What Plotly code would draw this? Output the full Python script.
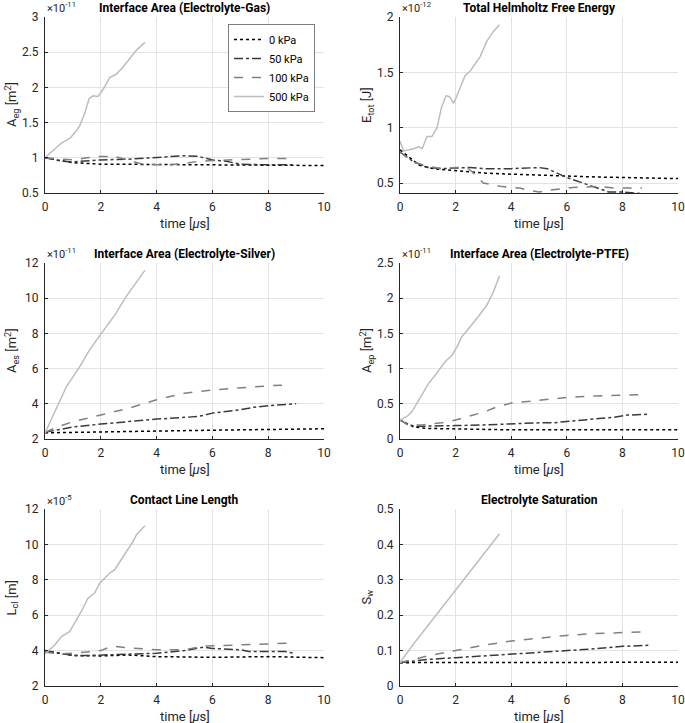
import plotly.graph_objects as go

W, H = 685, 723

SERIES = ["0 kPa", "50 kPa", "100 kPa", "500 kPa"]
COLORS = ["#000000", "#3a3a3a", "#808080", "#bdbdbd"]
DASHES = ["dot", "dashdot", "dash", "solid"]

# ---- Interface Area (Electrolyte-Gas), x1e-11 m^2
EG_T0 = [0, 0.5, 1, 2, 4, 6, 8, 10]
EG_0 = [1.0, 0.96, 0.93, 0.91, 0.90, 0.90, 0.895, 0.89]
EG_T50 = [0, 0.5, 0.9, 1.5, 2, 3, 4, 5, 5.5, 6, 6.5, 7, 8, 8.9]
EG_50 = [1.0, 0.96, 0.94, 0.96, 0.97, 0.98, 1.0, 1.03, 1.02, 0.97, 0.95, 0.91, 0.90, 0.90]
EG_T100 = [0, 0.5, 1, 1.5, 2, 2.5, 3, 3.5, 4, 4.5, 5, 5.5, 6, 6.5, 7, 8, 8.8]
EG_100 = [1.0, 0.98, 0.97, 1.0, 1.02, 1.02, 0.96, 0.91, 0.90, 0.90, 0.92, 0.95, 0.96, 0.97, 0.98, 0.99, 0.99]
EG_T500 = [0, 0.59, 0.9, 1.1, 1.24, 1.42, 1.58, 1.72, 1.9, 2.08, 2.32, 2.56, 2.8, 3.04, 3.28, 3.58]
EG_500 = [1.0, 1.21, 1.28, 1.37, 1.45, 1.63, 1.84, 1.88, 1.87, 1.97, 2.14, 2.19, 2.29, 2.41, 2.53, 2.64]

# ---- Total Helmholtz Free Energy, x1e-12 J
E_T0 = [0, 0.7, 1.2, 2, 3, 4, 5, 6, 7, 8, 9, 10]
E_0 = [0.80, 0.66, 0.63, 0.61, 0.59, 0.58, 0.57, 0.56, 0.555, 0.55, 0.545, 0.54]
E_T50 = [0, 0.5, 1, 1.5, 2, 2.5, 3, 4, 5, 5.3, 6, 7, 7.5, 8, 8.9]
E_50 = [0.78, 0.69, 0.64, 0.63, 0.635, 0.64, 0.63, 0.63, 0.64, 0.63, 0.55, 0.46, 0.42, 0.42, 0.40]
E_T100 = [0, 0.5, 1, 1.5, 2, 2.4, 2.6, 3.0, 3.6, 4.3, 4.7, 5.0, 5.5, 6.2, 7.2, 7.7, 8.7]
E_100 = [0.78, 0.69, 0.65, 0.63, 0.64, 0.64, 0.60, 0.50, 0.47, 0.455, 0.43, 0.42, 0.44, 0.46, 0.47, 0.455, 0.455]
E_T500 = [0, 0.13, 0.5, 0.67, 0.8, 0.97, 1.15, 1.33, 1.5, 1.66, 1.78, 1.93, 2.1, 2.34, 2.52, 2.7, 2.88, 3.12, 3.36, 3.58]
E_500 = [0.88, 0.79, 0.81, 0.83, 0.81, 0.92, 0.92, 1.0, 1.19, 1.29, 1.28, 1.22, 1.32, 1.47, 1.51, 1.58, 1.64, 1.78, 1.87, 1.93]

# ---- Interface Area (Electrolyte-Silver), x1e-11 m^2
ES_T0 = [0, 2, 4, 6, 8, 10]
ES_0 = [2.35, 2.38, 2.45, 2.5, 2.55, 2.58]
ES_T50 = [0, 1, 2, 3, 4, 5, 5.5, 6, 7, 7.5, 8, 9]
ES_50 = [2.38, 2.68, 2.85, 3.0, 3.13, 3.23, 3.28, 3.47, 3.66, 3.81, 3.89, 4.0]
ES_T100 = [0, 0.5, 1, 2, 3, 4, 5, 6, 7, 8, 8.8]
ES_100 = [2.38, 2.72, 2.98, 3.38, 3.75, 4.23, 4.6, 4.79, 4.92, 5.02, 5.08]
ES_T500 = [0, 0.77, 1.24, 1.6, 2.02, 2.5, 2.9, 3.58]
ES_500 = [2.34, 4.98, 6.1, 7.06, 8.0, 9.04, 10.08, 11.58]

# ---- Interface Area (Electrolyte-PTFE), x1e-11 m^2
EP_T0 = [0, 0.5, 1, 2, 4, 10]
EP_0 = [0.27, 0.17, 0.15, 0.14, 0.13, 0.13]
EP_T50 = [0, 0.3, 0.6, 1, 2, 3, 4, 5, 5.5, 6, 7, 7.7, 8.2, 8.9]
EP_50 = [0.27, 0.20, 0.18, 0.18, 0.19, 0.20, 0.22, 0.23, 0.23, 0.25, 0.28, 0.31, 0.34, 0.35]
EP_T100 = [0, 0.3, 0.8, 1.5, 2, 2.5, 3, 3.5, 4, 5, 6, 7, 8, 8.7]
EP_100 = [0.27, 0.20, 0.20, 0.23, 0.27, 0.32, 0.38, 0.46, 0.51, 0.55, 0.59, 0.61, 0.62, 0.63]
EP_T500 = [0, 0.25, 0.43, 0.61, 0.79, 1.03, 1.27, 1.45, 1.63, 1.87, 2.05, 2.22, 2.52, 2.82, 3.12, 3.36, 3.58]
EP_500 = [0.27, 0.32, 0.39, 0.51, 0.65, 0.79, 0.91, 1.0, 1.1, 1.19, 1.31, 1.45, 1.59, 1.74, 1.9, 2.09, 2.32]

# ---- Contact Line Length, x1e-5 m
CL_T0 = [0, 1, 2, 3, 4, 6, 8, 10]
CL_0 = [4.0, 3.72, 3.7, 3.75, 3.66, 3.62, 3.66, 3.6]
CL_T50 = [0, 0.5, 1, 1.5, 2, 3, 4, 5, 5.7, 6, 7, 7.3, 8, 8.6, 8.9]
CL_50 = [4.0, 3.85, 3.72, 3.72, 3.75, 3.8, 3.85, 4.0, 4.2, 4.12, 4.05, 3.95, 3.95, 3.95, 3.85]
CL_T100 = [0, 0.5, 1, 1.5, 2, 2.4, 3, 4, 5, 5.7, 6.5, 7, 8, 8.8]
CL_100 = [3.9, 3.82, 3.85, 3.92, 4.0, 4.25, 4.15, 4.05, 4.05, 4.25, 4.3, 4.35, 4.38, 4.42]
CL_T500 = [0, 0.17, 0.35, 0.59, 0.77, 0.89, 1.06, 1.3, 1.54, 1.78, 1.96, 2.14, 2.32, 2.5, 2.68, 2.92, 3.16, 3.28, 3.58]
CL_500 = [3.81, 4.04, 4.32, 4.79, 4.94, 5.08, 5.55, 6.21, 6.96, 7.25, 7.81, 8.09, 8.38, 8.57, 9.04, 9.6, 10.17, 10.55, 11.06]

# ---- Electrolyte Saturation
SW_T0 = [0, 10]
SW_0 = [0.066, 0.067]
SW_T50 = [0, 1, 2, 3, 4, 5, 5.5, 6, 7, 8, 9]
SW_50 = [0.066, 0.075, 0.08, 0.085, 0.09, 0.094, 0.096, 0.1, 0.105, 0.112, 0.115]
SW_T100 = [0, 0.5, 1, 2, 3, 4, 5, 6, 7, 8, 8.7]
SW_100 = [0.066, 0.075, 0.085, 0.1, 0.115, 0.127, 0.136, 0.143, 0.148, 0.151, 0.153]
SW_T500 = [0, 0.5, 1, 1.5, 2, 2.5, 3, 3.58]
SW_500 = [0.066, 0.12, 0.17, 0.22, 0.27, 0.32, 0.37, 0.43]

PANELS = [
    dict(title="Interface Area (Electrolyte-Gas)", ytitle="A<sub>eg</sub> [m<sup>2</sup>]", exp="-11",
         yrange=[0.5, 3], dtick=0.5,
         data=[(EG_T0, EG_0), (EG_T50, EG_50), (EG_T100, EG_100), (EG_T500, EG_500)]),
    dict(title="Total Helmholtz Free Energy", ytitle="E<sub>tot</sub> [J]", exp="-12",
         yrange=[0.41, 2], dtick=0.5,
         data=[(E_T0, E_0), (E_T50, E_50), (E_T100, E_100), (E_T500, E_500)]),
    dict(title="Interface Area (Electrolyte-Silver)", ytitle="A<sub>es</sub> [m<sup>2</sup>]", exp="-11",
         yrange=[2, 12], dtick=2,
         data=[(ES_T0, ES_0), (ES_T50, ES_50), (ES_T100, ES_100), (ES_T500, ES_500)]),
    dict(title="Interface Area (Electrolyte-PTFE)", ytitle="A<sub>ep</sub> [m<sup>2</sup>]", exp="-11",
         yrange=[0, 2.5], dtick=0.5,
         data=[(EP_T0, EP_0), (EP_T50, EP_50), (EP_T100, EP_100), (EP_T500, EP_500)]),
    dict(title="Contact Line Length", ytitle="L<sub>cl</sub> [m]", exp="-5",
         yrange=[2, 12], dtick=2,
         data=[(CL_T0, CL_0), (CL_T50, CL_50), (CL_T100, CL_100), (CL_T500, CL_500)]),
    dict(title="Electrolyte Saturation", ytitle="S<sub>w</sub>", exp=None,
         yrange=[0, 0.5], dtick=0.1,
         data=[(SW_T0, SW_0), (SW_T50, SW_50), (SW_T100, SW_100), (SW_T500, SW_500)]),
]

# pixel geometry of plot areas
COLS = [(45, 324), (400, 678)]
ROWS = [(17, 193), (263, 439), (509, 686)]

TXT = "#262626"
FONT = "Roboto"

fig = go.Figure()
annotations = []
layout = {}

for i, p in enumerate(PANELS):
    r, c = divmod(i, 2)
    x0, x1 = COLS[c]
    y0, y1 = ROWS[r]
    n = i + 1
    xa = "xaxis" if n == 1 else f"xaxis{n}"
    ya = "yaxis" if n == 1 else f"yaxis{n}"
    xref = "x" if n == 1 else f"x{n}"
    yref = "y" if n == 1 else f"y{n}"
    common = dict(showgrid=True, gridcolor="#e3e3e3", gridwidth=1, zeroline=False,
                  showline=True, linecolor=TXT, linewidth=1, ticks="inside", ticklen=3,
                  tickcolor=TXT, automargin=False, ticklabeloverflow="allow",
                  tickfont=dict(family=FONT, size=12, color=TXT))
    layout[xa] = dict(common, domain=[x0 / W, x1 / W], range=[0, 10], dtick=2, tick0=0,
                      anchor=yref, ticklabelstandoff=3)
    layout[ya] = dict(common, domain=[1 - y1 / H, 1 - y0 / H], range=p["yrange"], dtick=p["dtick"],
                      tick0=0, anchor=xref, ticklabelstandoff=3)
    for k, (t, v) in enumerate(p["data"]):
        fig.add_trace(go.Scatter(x=t, y=v, mode="lines", name=SERIES[k], xaxis=xref, yaxis=yref,
                                 showlegend=(i == 0), legendrank=k,
                                 line=dict(color=COLORS[k], dash=DASHES[k], width=1.5)))
    cx = (x0 + x1) / 2
    annotations.append(dict(text="<b>" + p["title"] + "</b>", x=cx / W, y=1 - (y0 - 9) / H,
                            xref="paper", yref="paper", xanchor="center", yanchor="middle",
                            showarrow=False, font=dict(family=FONT, size=12, color="#000000")))
    annotations.append(dict(text="time [<i>μ</i>s]", x=cx / W, y=1 - (y1 + 30) / H,
                            xref="paper", yref="paper", xanchor="center", yanchor="middle",
                            showarrow=False, font=dict(family=FONT, size=13, color=TXT)))
    annotations.append(dict(text=p["ytitle"], x=(x0 - 33) / W, y=1 - ((y0 + y1) / 2) / H,
                            xref="paper", yref="paper", xanchor="center", yanchor="middle",
                            textangle=-90, showarrow=False, font=dict(family=FONT, size=13, color=TXT)))
    if p["exp"]:
        annotations.append(dict(text="×10<sup>" + p["exp"] + "</sup>", x=x0 / W, y=1 - (y0 - 9) / H,
                                xref="paper", yref="paper", xanchor="left", yanchor="middle",
                                showarrow=False, font=dict(family=FONT, size=11, color=TXT)))

fig.update_layout(**layout)
fig.update_layout(
    width=W, height=H, margin=dict(l=0, r=0, t=0, b=0, autoexpand=False),
    paper_bgcolor="white", plot_bgcolor="white",
    annotations=annotations,
    legend=dict(x=315 / W, y=1 - 24 / H, xanchor="right", yanchor="top",
                bgcolor="white", bordercolor="#7f7f7f", borderwidth=1,
                font=dict(family=FONT, size=11, color="#000000"),
                tracegroupgap=0, itemwidth=30),
    font=dict(family=FONT),
)
fig.write_html("out.html", config={"displayModeBar": False},
               post_script="document.body.style.margin='0';document.body.style.overflow='hidden';")
